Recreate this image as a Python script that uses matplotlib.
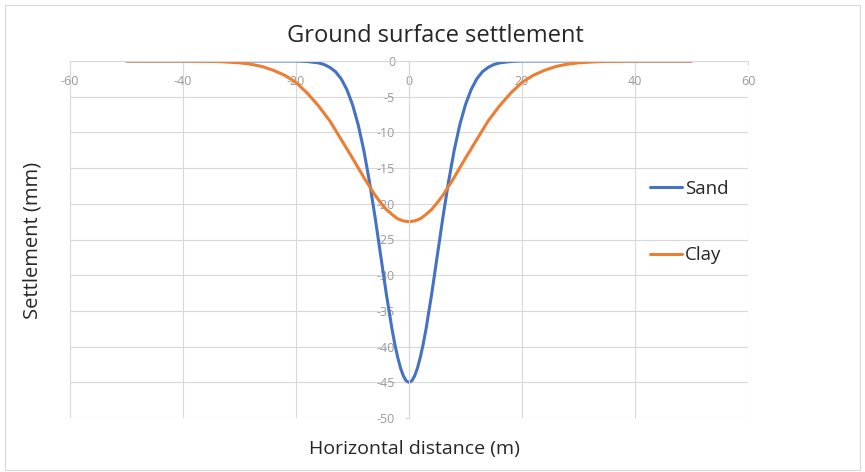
import numpy as np
import matplotlib.pyplot as plt
from matplotlib.patches import Rectangle

# horizontal distance (m) and settlement (mm)
x_sand = [-50, -30, -20, -18, -16, -15, -14, -13, -12, -11, -10, -9, -8, -7, -6, -5, -4, -3, -2.5, -2, -1.5, -1, -0.5, 0,
          0.5, 1, 1.5, 2, 2.5, 3, 4, 5, 6, 7, 8, 9, 10, 11, 12, 13, 14, 15, 16, 18, 20, 30, 50]
sand = [0, 0, 0, -0.07, -0.27, -0.5, -0.9, -1.5, -2.5, -4.0, -6.1, -8.9, -12.5, -16.9, -21.9, -27.3, -32.7, -37.6, -39.7, -41.5, -43.0, -44.1, -44.8, -45,
        -44.8, -44.1, -43.0, -41.5, -39.7, -37.6, -32.7, -27.3, -21.9, -16.9, -12.5, -8.9, -6.1, -4.0, -2.5, -1.5, -0.9, -0.5, -0.27, -0.07, 0, 0, 0]

x_clay = [-50, -40, -34, -30, -28, -26, -24, -22, -20, -18, -16, -14, -12, -10, -8, -6, -5, -4, -3, -2, -1, 0,
          1, 2, 3, 4, 5, 6, 8, 10, 12, 14, 16, 18, 20, 22, 24, 26, 28, 30, 34, 40, 50]
clay = [0, 0, -0.07, -0.25, -0.45, -0.77, -1.3, -2.0, -3.0, -4.5, -6.3, -8.4, -11.0, -13.6, -16.3, -18.8, -19.85, -20.8, -21.5, -22.1, -22.4, -22.5,
        -22.4, -22.1, -21.5, -20.8, -19.85, -18.8, -16.3, -13.6, -11.0, -8.4, -6.3, -4.5, -3.0, -2.0, -1.3, -0.77, -0.45, -0.25, -0.07, 0, 0]

x_ticks = [-60, -40, -20, 0, 20, 40, 60]
y_ticks = [0, -5, -10, -15, -20, -25, -30, -35, -40, -45, -50]

plt.rcParams['font.family'] = ['Open Sans', 'DejaVu Sans']
plt.rcParams['axes.unicode_minus'] = False

fig = plt.figure(figsize=(8.65, 4.72), dpi=100)
ax = fig.add_axes([70/865, 1 - 418/472, 678/865, 357/472])

ax.plot(x_sand, sand, color="#4472C4", lw=2.2, label="Sand", solid_capstyle="round", solid_joinstyle="round")
ax.plot(x_clay, clay, color="#ED7D31", lw=2.2, label="Clay", solid_capstyle="round", solid_joinstyle="round")

ax.set_xlim(-60, 60)
ax.set_ylim(-50, 0)
ax.set_xticks(x_ticks)
ax.set_yticks(y_ticks)
ax.grid(True, color="#d9d9d9", lw=0.8)
ax.set_axisbelow(True)

for s in ["top", "right"]:
    ax.spines[s].set_visible(False)
ax.spines["bottom"].set_position(("data", 0))
ax.spines["left"].set_position(("data", 0))
ax.spines["bottom"].set_color("#d9d9d9")
ax.spines["left"].set_color("#d9d9d9")
ax.tick_params(length=3, color="#d9d9d9", labelsize=9, labelcolor="#999999", pad=7)

fig.text(435/865, 1 - 36/472, "Ground surface settlement", ha="center", va="center",
         fontsize=17, color="#262626")
fig.text(33/865, 1 - 240/472, "Settlement (mm)", ha="center", va="center",
         rotation=90, fontsize=14.5, color="#262626")
fig.text(414/865, 1 - 449/472, "Horizontal distance (m)", ha="center", va="center",
         fontsize=14, color="#262626")

fig.legend(loc="center left", bbox_to_anchor=(633/865, 1 - 222/472), frameon=False,
           fontsize=13.5, labelspacing=2.6, handlelength=1.7, handletextpad=0.15,
           labelcolor="#262626")

fig.patches.append(Rectangle((5/865, 2/472), 855/865, 465/472, transform=fig.transFigure,
                             fill=False, edgecolor="#d9d9d9", lw=0.8))

fig.savefig("out.png", dpi=100)
